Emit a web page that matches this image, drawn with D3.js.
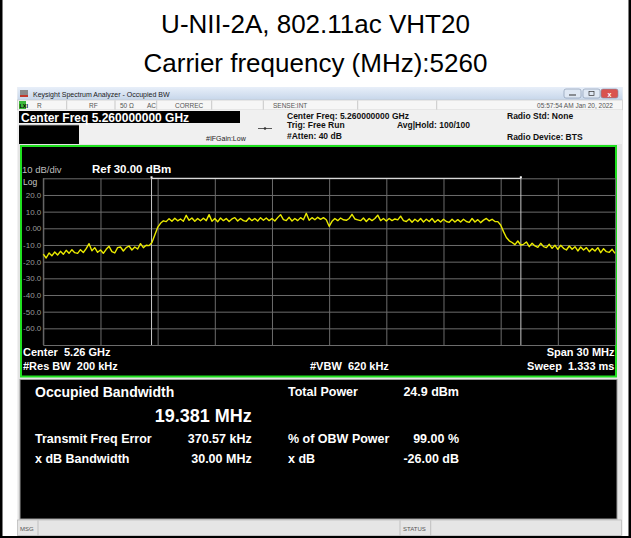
<!DOCTYPE html>
<html>
<head>
<meta charset="utf-8">
<script src="https://cdn.jsdelivr.net/npm/d3@7"></script>
<style>
body{margin:0;background:#fff}
svg{display:block}
text{font-family:Arial,"Liberation Sans",sans-serif}
</style>
</head>
<body>
<div id="chart"></div>
<script>
// trace: 201 sweep points over 5245..5275 MHz (dBm)
var sweepStart = 5245, sweepStop = 5275;
var traceDbm = [
  // left skirt
  -15.5,-17.8,-14.8,-16.5,-14.2,-16,-13.8,-15.6,-13.2,-15,-12.8,-14.6,-15,-12.8,-14.5,-12.2,-9.2,-13.5,-11.6,-14.4,
  -13,-15,-12.6,-10.8,-14,-14.8,-11.6,-11.2,-13.6,-11.6,-10.6,-13,-11.2,-12.4,-9.2,-11.6,-10.2,-10.4,
  // rising edge
  -8.5,-4,0.5,3,4.5,
  // channel top
  4,5.8,4.2,6,4.5,5.6,4.2,7.8,4.8,6.2,
  4.2,5.9,4.5,6,4.6,8.2,4.2,5.9,3.9,6.2,
  4.6,5.9,4.1,5.6,6.4,4.4,5.9,4.6,4.2,6.2,
  4.6,5.9,4.4,6.4,4.8,6.2,4.6,5.9,4.4,6.4,
  8.2,5.2,4.6,6.6,4.4,5.9,4.6,6.4,5.1,9,
  4.8,6.4,5.1,6.6,5.4,6.4,5.1,1.2,4.2,5.9,
  4.6,6.2,5.1,4.8,5.9,8.4,5.6,5.1,4.6,6.2,
  4.1,5.9,4.6,5.9,7.9,4.6,5.9,4.4,5.9,4.6,
  5.6,5.1,7.3,4.6,4.1,5.6,3.6,5.4,4.1,5.9,
  3.8,5.4,4.1,5.9,3.6,5.2,3.8,5.4,4.1,3.6,
  5.4,3.8,5.2,3.8,5.4,4.1,3.6,5.9,3.8,5.2,
  3.4,4.9,5.9,4.4,5.4,4.1,4,
  // falling edge
  2,-2,-5.5,-7.5,-8.5,
  // right skirt
  -9.8,-7.6,-10,-9.6,-8.2,-11,-9,-10.6,-11.4,-9,
  -11,-11.6,-9.6,-12,-10.2,-12.6,-10.2,-12,-13,-10.6,
  -12.6,-11,-13.6,-11.2,-13,-11.6,-14,-12.2,-13.6,-11.6,
  -14.6,-12.2,-14,-14.4,-12.6,-15
];
var obwEdges = [5250.68, 5270.06];          // MHz, OBW marker lines
var refLevel = 30, bottomLevel = -70;
var yTicks = [20, 10, 0, -10, -20, -30, -40, -50, -60];
var yTickLabels = ["20.0", "10.0", "0.00", "-10.0", "-20.0", "-30.0", "-40.0", "-50.0", "-60.0"];
var xDivs = d3.range(11);

var resLeftLabels = ["Transmit Freq Error", "x dB Bandwidth"];
var resLeftValues = ["370.57 kHz", "30.00 MHz"];
var resRightLabels = ["% of OBW Power", "x dB"];
var resRightValues = ["99.00 %", "-26.00 dB"];

var W = 631, H = 538;
var svg = d3.select("#chart").append("svg").attr("width", W).attr("height", H);

// outer frame of the page cell
svg.append("rect").attr("x", 0).attr("y", 0).attr("width", 2.5).attr("height", H).attr("fill", "#000");
svg.append("rect").attr("x", 628.5).attr("y", 0).attr("width", 2.5).attr("height", H).attr("fill", "#000");
svg.append("rect").attr("x", 0).attr("y", 536).attr("width", W).attr("height", 2).attr("fill", "#000");

svg.append("text").attr("x", 315.5).attr("y", 33).attr("text-anchor", "middle")
    .attr("font-size", 26).text("U-NII-2A, 802.11ac VHT20");
svg.append("text").attr("x", 315.5).attr("y", 72).attr("text-anchor", "middle")
    .attr("font-size", 26).text("Carrier frequency (MHz):5260");

// ---- analyzer window ----
var defs = svg.append("defs");
var g1 = defs.append("linearGradient").attr("id", "tb").attr("x1", 0).attr("y1", 0).attr("x2", 0).attr("y2", 1);
g1.append("stop").attr("offset", "0%").attr("stop-color", "#e8eff9");
g1.append("stop").attr("offset", "100%").attr("stop-color", "#c6d6ea");

var win = svg.append("g");
win.append("rect").attr("x", 17.5).attr("y", 87).attr("width", 605).attr("height", 449).attr("fill", "#e4e4e4");
win.append("rect").attr("x", 17.5).attr("y", 87).attr("width", 605).attr("height", 13).attr("fill", "url(#tb)");
win.append("rect").attr("x", 20).attr("y", 90).attr("width", 8).attr("height", 7).attr("fill", "#8a8a8a");
win.append("rect").attr("x", 20).attr("y", 95).attr("width", 8).attr("height", 2).attr("fill", "#c0392b");
win.append("text").attr("x", 33).attr("y", 97).attr("font-size", 7).attr("fill", "#1a1a1a")
    .text("Keysight Spectrum Analyzer - Occupied BW");
// window buttons
[[564, "#dfe8f4"], [583, "#dfe8f4"], [601, "#d9534f"]].forEach(function (b) {
  win.append("rect").attr("x", b[0]).attr("y", 89).attr("width", 17).attr("height", 9).attr("rx", 2)
      .attr("fill", b[1]).attr("stroke", "#7d8fa8").attr("stroke-width", 0.6);
});
win.append("line").attr("x1", 569).attr("x2", 576).attr("y1", 95).attr("y2", 95).attr("stroke", "#333");
win.append("rect").attr("x", 589).attr("y", 91.5).attr("width", 5).attr("height", 4).attr("fill", "none").attr("stroke", "#333").attr("stroke-width", 0.7);
win.append("text").attr("x", 609.5).attr("y", 96.5).attr("text-anchor", "middle").attr("font-size", 7)
    .attr("font-weight", "bold").attr("fill", "#fff").text("x");

// status row
win.append("rect").attr("x", 17.5).attr("y", 100).attr("width", 605).attr("height", 10)
    .attr("fill", "#f6f6f6").attr("stroke", "#c4c4c4").attr("stroke-width", 0.6);
win.append("rect").attr("x", 19).attr("y", 101).attr("width", 7).attr("height", 8).attr("fill", "#3bb83b");
win.append("text").attr("x", 19.5).attr("y", 107.5).attr("font-size", 5.5).attr("font-weight", "bold").attr("fill", "#000").text("LXI");
[66.7, 115, 156.7, 211.7, 263.3, 357.7, 436.7].forEach(function (x) {
  win.append("line").attr("x1", x).attr("x2", x).attr("y1", 100.5).attr("y2", 109.5)
      .attr("stroke", "#b5b5b5").attr("stroke-width", 0.7);
});
[[37, "R"], [89, "RF"], [120, "50 \u03a9"], [147, "AC"], [175, "CORREC"], [273, "SENSE:INT"]].forEach(function (t) {
  win.append("text").attr("x", t[0]).attr("y", 108).attr("font-size", 6.5).attr("fill", "#555").text(t[1]);
});
win.append("text").attr("x", 613).attr("y", 108).attr("text-anchor", "end").attr("font-size", 6.5)
    .attr("fill", "#555").text("05:57:54 AM Jan 20, 2022");

// settings area
win.append("rect").attr("x", 17.5).attr("y", 110).attr("width", 605).attr("height", 34).attr("fill", "#f0f0f0");
win.append("rect").attr("x", 19).attr("y", 111).attr("width", 221).attr("height", 12).attr("fill", "#000");
win.append("text").attr("x", 21).attr("y", 121.5).attr("font-size", 12).attr("font-weight", "bold")
    .attr("fill", "#fff").text("Center Freq 5.260000000 GHz");
win.append("rect").attr("x", 19).attr("y", 125).attr("width", 60).attr("height", 19).attr("fill", "#000");
win.append("line").attr("x1", 19).attr("x2", 79).attr("y1", 125).attr("y2", 125).attr("stroke", "#aaa").attr("stroke-width", 0.8);
win.append("text").attr("x", 206).attr("y", 141).attr("font-size", 7).attr("fill", "#222").text("#IFGain:Low");
win.append("line").attr("x1", 258).attr("x2", 272).attr("y1", 128.5).attr("y2", 128.5).attr("stroke", "#333").attr("stroke-width", 0.8);
win.append("circle").attr("cx", 265).attr("cy", 128.5).attr("r", 1.3).attr("fill", "#333");
var hdr = [[287, 119.3, "Center Freq: 5.260000000 GHz"], [287, 128.3, "Trig: Free Run"],
           [397, 128.3, "Avg|Hold: 100/100"], [287, 139, "#Atten: 40 dB"],
           [507, 119.3, "Radio Std: None"], [507, 139.5, "Radio Device: BTS"]];
hdr.forEach(function (t) {
  win.append("text").attr("x", t[0]).attr("y", t[1]).attr("font-size", 8.5).attr("font-weight", "bold")
      .attr("fill", "#111").text(t[2]);
});

// ---- trace panel ----
win.append("rect").attr("x", 21).attr("y", 146).attr("width", 595).attr("height", 230.5)
    .attr("fill", "#000").attr("stroke", "#1fe01f").attr("stroke-width", 2);

var plotL = 43.3, plotR = 615, plotT = 178.3, plotB = 345;
var x = d3.scaleLinear().domain([sweepStart, sweepStop]).range([plotL, plotR]);
var y = d3.scaleLinear().domain([bottomLevel, refLevel]).range([plotB, plotT]);
var xi = d3.scaleLinear().domain([0, traceDbm.length - 1]).range([sweepStart, sweepStop]);

var plot = win.append("g");
// vertical grid (10 divisions)
plot.append("g").attr("transform", "translate(0," + plotB + ")")
    .call(d3.axisBottom(d3.scaleLinear().domain([0, 10]).range([plotL, plotR]))
        .tickValues(xDivs).tickSize(-(plotB - plotT)).tickFormat(""))
    .call(function (g) { g.select(".domain").remove(); })
    .selectAll("line").attr("stroke", "#6c6c6c").attr("stroke-width", 1);
// horizontal grid + labels
var yLabelOf = {};
yTicks.forEach(function (v, i) { yLabelOf[v] = yTickLabels[i]; });
plot.append("g").attr("transform", "translate(" + plotL + ",0)")
    .call(d3.axisLeft(y).tickValues(yTicks.concat([refLevel, bottomLevel])).tickSize(-(plotR - plotL))
        .tickPadding(2).tickFormat(function (d) { return yLabelOf[d] || ""; }))
    .call(function (g) {
      g.select(".domain").remove();
      g.selectAll("line").attr("stroke", "#6c6c6c").attr("stroke-width", 1);
      g.selectAll("text").attr("fill", "#9a9a9a").attr("font-size", 8)
          .attr("font-family", "Arial, 'Liberation Sans', sans-serif");
    });
plot.append("line").attr("x1", plotL).attr("x2", plotL).attr("y1", plotT).attr("y2", plotB)
    .attr("stroke", "#6c6c6c");

// OBW markers
obwEdges.forEach(function (f) {
  plot.append("line").attr("x1", x(f)).attr("x2", x(f)).attr("y1", plotT).attr("y2", plotB)
      .attr("stroke", "#c8c8c8").attr("stroke-width", 1);
  plot.append("rect").attr("x", x(f) - 1).attr("y", plotT - 2).attr("width", 2).attr("height", 2).attr("fill", "#fff");
});
plot.append("line").attr("x1", x(obwEdges[0])).attr("x2", x(obwEdges[1])).attr("y1", plotT).attr("y2", plotT)
    .attr("stroke", "#d8d8d8").attr("stroke-width", 1.2);

// trace
var line = d3.line().x(function (d, i) { return x(xi(i)); }).y(function (d) { return y(d); });
plot.append("path").datum(traceDbm).attr("d", line).attr("fill", "none")
    .attr("stroke", "#eaea00").attr("stroke-width", 1.4).attr("stroke-linejoin", "round");

// panel annotations
plot.append("text").attr("x", 22).attr("y", 173).attr("font-size", 9.5).attr("fill", "#bdbdbd").text("10 dB/div");
plot.append("text").attr("x", 92).attr("y", 173).attr("font-size", 11.5).attr("font-weight", "bold")
    .attr("fill", "#fff").text("Ref 30.00 dBm");
plot.append("text").attr("x", 23).attr("y", 185).attr("font-size", 8.5).attr("fill", "#c8c8c8").text("Log");
plot.append("text").attr("x", 23).attr("y", 356).attr("font-size", 11).attr("font-weight", "bold")
    .attr("fill", "#fff").attr("xml:space", "preserve").text("Center  5.26 GHz");
plot.append("text").attr("x", 23).attr("y", 370).attr("font-size", 11).attr("font-weight", "bold")
    .attr("fill", "#fff").attr("xml:space", "preserve").text("#Res BW  200 kHz");
plot.append("text").attr("x", 310).attr("y", 370).attr("font-size", 11).attr("font-weight", "bold")
    .attr("fill", "#fff").attr("xml:space", "preserve").text("#VBW  620 kHz");
plot.append("text").attr("x", 614.5).attr("y", 356).attr("text-anchor", "end").attr("font-size", 11)
    .attr("font-weight", "bold").attr("fill", "#fff").text("Span 30 MHz");
plot.append("text").attr("x", 614.5).attr("y", 370).attr("text-anchor", "end").attr("font-size", 11)
    .attr("font-weight", "bold").attr("fill", "#fff").attr("xml:space", "preserve").text("Sweep  1.333 ms");

// ---- results panel ----
win.append("rect").attr("x", 20).attr("y", 379.5).attr("width", 597).attr("height", 139.5)
    .attr("fill", "#000").attr("stroke", "#9a9a9a").attr("stroke-width", 1);
var res = win.append("g").attr("fill", "#fff").attr("font-weight", "bold");
res.append("text").attr("x", 35).attr("y", 396.5).attr("font-size", 14).text("Occupied Bandwidth");
res.append("text").attr("x", 251.7).attr("y", 421.5).attr("text-anchor", "end").attr("font-size", 18).text("19.381 MHz");
res.append("text").attr("x", 288).attr("y", 396).attr("font-size", 12.5).text("Total Power");
res.append("text").attr("x", 459).attr("y", 396).attr("text-anchor", "end").attr("font-size", 12.5).text("24.9 dBm");
var rowY = [443, 463];
rowY.forEach(function (ry, i) {
  res.append("text").attr("x", 35).attr("y", ry).attr("font-size", 12.5).text(resLeftLabels[i]);
  res.append("text").attr("x", 251.7).attr("y", ry).attr("text-anchor", "end").attr("font-size", 12.5).text(resLeftValues[i]);
  res.append("text").attr("x", 288).attr("y", ry).attr("font-size", 12.5).text(resRightLabels[i]);
  res.append("text").attr("x", 459).attr("y", ry).attr("text-anchor", "end").attr("font-size", 12.5).text(resRightValues[i]);
});

// status bar
win.append("rect").attr("x", 17.5).attr("y", 520).attr("width", 604).attr("height", 15.5)
    .attr("fill", "#e6e6e6").attr("stroke", "#b8b8b8").attr("stroke-width", 0.7);
[38, 400, 430.7].forEach(function (sx) {
  win.append("line").attr("x1", sx).attr("x2", sx).attr("y1", 520.5).attr("y2", 535.5).attr("stroke", "#b0b0b0").attr("stroke-width", 0.7);
});
win.append("text").attr("x", 20).attr("y", 531).attr("font-size", 6).attr("fill", "#555").text("MSG");
win.append("text").attr("x", 403).attr("y", 531).attr("font-size", 6).attr("fill", "#555").text("STATUS");
</script>
</body>
</html>
